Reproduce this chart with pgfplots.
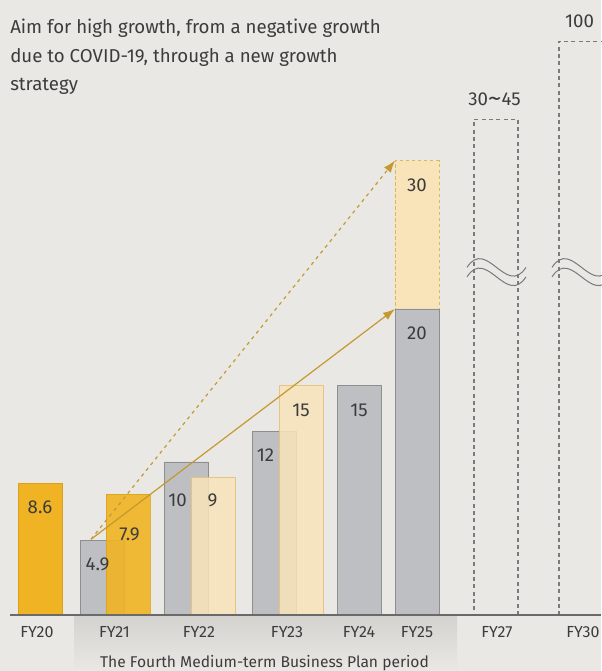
\documentclass[border=0pt]{standalone}
\usepackage{pgfplots}
\pgfplotsset{compat=1.18}
\usepackage{fontspec}
\setmainfont{Fira Sans}
\usetikzlibrary{arrows.meta}
\definecolor{bg}{HTML}{EAE8E4}
\definecolor{band}{HTML}{D3D2CE}
\definecolor{orangeF}{HTML}{F0B323}
\definecolor{orangeB}{HTML}{D9A21A}
\definecolor{grayF}{HTML}{BEBFC2}
\definecolor{grayB}{HTML}{8E8E90}
\definecolor{lightF}{HTML}{F9E4BA}
\definecolor{lightB}{HTML}{E2C37A}
\definecolor{goldD}{HTML}{E0B84F}
\definecolor{arrowc}{HTML}{C49A2F}
\definecolor{dgray}{HTML}{7A7A7A}
\definecolor{txt}{HTML}{3C3C3C}
\definecolor{axisgray}{HTML}{6A6A6A}
\tikzset{
  lbl/.style={font=\fontsize{14}{16}\selectfont, text=txt, inner sep=0pt},
  brk/.style={dgray, line width=0.75pt},
}
\begin{document}
\begin{tikzpicture}
\begin{axis}[
  scale only axis, width=450.75pt, height=461.25pt,
  xmin=0, xmax=601, ymin=0, ymax=40.196,
  axis on top,
  axis x line=bottom, axis y line=none,
  x axis line style={draw=none},
  xtick={37,114.5,199,287,359,417,497,583},
  xticklabels={FY20,FY21,FY22,FY23,FY24,FY25,FY27,FY30},
  major tick length=0pt,
  xticklabel style={anchor=base, yshift=-16.5pt, font=\fontsize{12}{14}\selectfont, text=txt},
  clip=false,
  bars/.style={ybar, bar width=44, bar shift=0pt, line width=0.7pt},
]
% background and plan band
\fill[bg] (axis cs:0,-3.66) rectangle (axis cs:601,40.196);
\shade[top color=band, bottom color=bg] (axis cs:74,0) rectangle (axis cs:457,-3.66);
% FY25 target (dashed)
\addplot[bars, fill=lightF, draw=goldD, dash pattern=on 2.5pt off 2pt] coordinates {(417,29.7)};
% FY27 / FY30 targets (dashed outlines)
\addplot[bars, fill=none, draw=dgray, line width=0.8pt, dash pattern=on 3pt off 2.5pt] coordinates {(496,32.4) (581,37.5)};
% FY20 actual
\addplot[bars, fill=orangeF, draw=orangeB] coordinates {(40,8.6)};
% gray bars
\addplot[bars, fill=grayF, draw=grayB] coordinates {(102,4.9) (186,10) (274,12) (359,15) (417,20)};
% FY21 actual (orange, overlapping)
\addplot[bars, fill=orangeF, fill opacity=0.9, draw=orangeB, draw opacity=0.8] coordinates {(128,7.9)};
% light plan bars
\addplot[bars, fill=lightF, fill opacity=0.85, draw=lightB, draw opacity=0.9] coordinates {(213,9) (301,15)};
% baseline
\draw[axisgray, line width=0.9pt] (axis cs:10,0) -- (axis cs:601,0);
% growth arrows
\addplot[sharp plot, no marks, arrowc, line width=0.9pt, -{Latex[length=9pt,width=6.5pt]}] coordinates {(91,4.95) (395,20)};
\addplot[sharp plot, no marks, arrowc, line width=0.9pt, dash pattern=on 2.5pt off 3pt, -{Latex[length=9pt,width=6.5pt]}] coordinates {(91,4.95) (395,29.7)};
% break marks
\draw[brk] (axis cs:467,22.72) .. controls (axis cs:486.7,24.7) and (axis cs:506.3,20.74) .. (axis cs:526,22.72);
\draw[brk] (axis cs:467,22.10) .. controls (axis cs:486.7,24.08) and (axis cs:506.3,20.12) .. (axis cs:526,22.10);
\draw[brk] (axis cs:552,22.72) .. controls (axis cs:571.7,24.7) and (axis cs:591.3,20.74) .. (axis cs:611,22.72);
\draw[brk] (axis cs:552,22.10) .. controls (axis cs:571.7,24.08) and (axis cs:591.3,20.12) .. (axis cs:611,22.10);
% value labels
\node[lbl] at (axis cs:40,{(615-507.5)/15.3}) {8.6};
\node[lbl] at (axis cs:97.5,{(615-564)/15.3}) {4.9};
\node[lbl] at (axis cs:129.5,{(615-534)/15.3}) {7.9};
\node[lbl] at (axis cs:177.5,{(615-500)/15.3}) {10};
\node[lbl] at (axis cs:212.5,{(615-500)/15.3}) {9};
\node[lbl] at (axis cs:265.5,{(615-455.5)/15.3}) {12};
\node[lbl] at (axis cs:301,{(615-410)/15.3}) {15};
\node[lbl] at (axis cs:359,{(615-410)/15.3}) {15};
\node[lbl] at (axis cs:417,{(615-333)/15.3}) {20};
\node[lbl] at (axis cs:417,{(615-185)/15.3}) {30};
\node[lbl] at (axis cs:494.5,{(615-99.5)/15.3}) {30\raisebox{-0.5pt}{\scalebox{1.5}[1.3]{\textasciitilde}}45};
\node[lbl] at (axis cs:579.5,{(615-21)/15.3}) {100};
% subtitle
\node[lbl, anchor=base west] at (axis cs:10,{(615-34)/15.3}) {Aim for high growth, from a negative growth};
\node[lbl, anchor=base west] at (axis cs:10,{(615-62.5)/15.3}) {due to COVID-19, through a new growth};
\node[lbl, anchor=base west] at (axis cs:10,{(615-91)/15.3}) {strategy};
% band caption
\node[font=\fontsize{11.7}{14}\selectfont, text=txt, anchor=base, inner sep=0pt] at (axis cs:264.5,-3.40) {The Fourth Medium-term Business Plan period};
\end{axis}
\pgfresetboundingbox
\path[use as bounding box] (current axis.south west) ++(0,-42pt) rectangle (current axis.north east);
\end{tikzpicture}
\end{document}
